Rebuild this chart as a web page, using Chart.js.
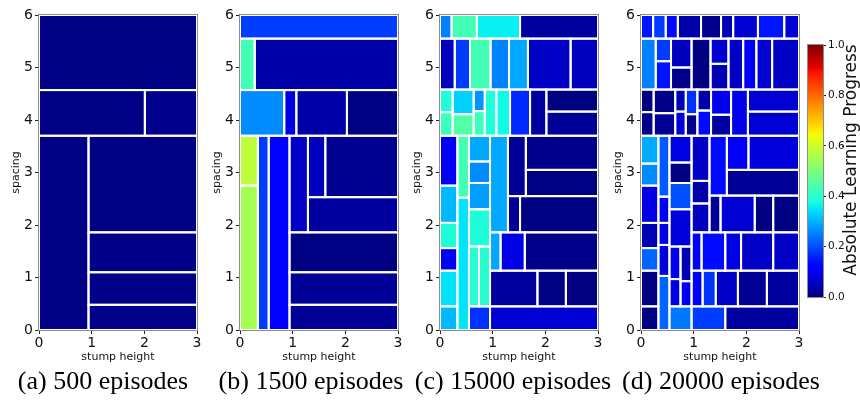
<!DOCTYPE html>
<html>
<head>
<meta charset="utf-8">
<script src="https://cdn.jsdelivr.net/npm/chart.js@4/dist/chart.umd.min.js"></script>
<style>
  body { margin: 0; background: #fff; }
  #wrap { position: relative; width: 860px; height: 400px; overflow: hidden; }
  #wrap canvas { position: absolute; top: 0; }
  .cap { position: absolute; top: 366px; width: 240px; text-align: center;
         font: 26px "Liberation Serif", "Times New Roman", serif; color: #000; white-space: nowrap; }
</style>
</head>
<body>
<div id="wrap"></div>
<script>
// cells: [x0, x1, y0, y1, absolute learning progress]
var captions = ["(a) 500 episodes", "(b) 1500 episodes", "(c) 15000 episodes", "(d) 20000 episodes"];
var captionCenter = [103, 311, 513, 721];
var xTicks = [0, 1, 2, 3];
var yTicks = [0, 1, 2, 3, 4, 5, 6];
var cbTicks = [0, 0.2, 0.4, 0.6, 0.8, 1.0];

var cellsA = [
  [0, 3, 4.57, 6, 0.005],
  [0, 2.01, 3.70, 4.57, 0.005],
  [2.01, 3, 3.70, 4.57, 0.012],
  [0, 0.94, 0, 3.70, 0.005],
  [0.94, 3, 1.86, 3.70, 0.005],
  [0.94, 3, 1.10, 1.86, 0.008],
  [0.94, 3, 0.48, 1.10, 0.008],
  [0.94, 3, 0, 0.48, 0.008]
];

var cellsB = [
  [0, 3, 5.55, 6, 0.185],
  [0, 0.28, 4.57, 5.55, 0.43],
  [0.28, 3, 4.57, 5.55, 0.036],
  [0, 0.84, 3.70, 4.57, 0.262],
  [0.84, 1.07, 3.70, 4.57, 0.088],
  [1.07, 2.03, 3.70, 4.57, 0.036],
  [2.03, 3, 3.70, 4.57, 0.005],
  [0, 0.34, 2.75, 3.70, 0.58],
  [0, 0.34, 0, 2.75, 0.55],
  [0.34, 0.545, 0, 3.70, 0.184],
  [0.545, 0.94, 0, 3.70, 0.12],
  [0.94, 1.29, 1.86, 3.70, 0.062],
  [1.29, 1.62, 2.53, 3.70, 0.054],
  [1.62, 3, 2.53, 3.70, 0.015],
  [1.29, 3, 1.86, 2.53, 0.028],
  [0.94, 3, 1.10, 1.86, 0.003],
  [0.94, 3, 0.48, 1.10, 0.02],
  [0.94, 3, 0, 0.48, 0.02]
];

var cellsC = [
  [0, 0.22, 5.55, 6, 0.252],
  [0.22, 0.70, 5.55, 6, 0.43],
  [0.70, 1.52, 5.55, 6, 0.36],
  [1.52, 3, 5.55, 6, 0.028],
  [0, 0.28, 4.58, 5.55, 0.054],
  [0.28, 0.57, 4.58, 5.55, 0.184],
  [0.57, 0.96, 4.58, 5.55, 0.43],
  [0.96, 1.31, 4.58, 5.55, 0.252],
  [1.31, 1.67, 4.58, 5.55, 0.29],
  [1.67, 2.48, 4.58, 5.55, 0.062],
  [2.48, 3, 4.58, 5.55, 0.054],
  [0, 0.24, 4.15, 4.58, 0.386],
  [0, 0.24, 3.70, 4.15, 0.42],
  [0.24, 0.64, 4.11, 4.58, 0.33],
  [0.24, 0.64, 3.70, 4.11, 0.447],
  [0.64, 0.85, 4.17, 4.58, 0.27],
  [0.64, 0.85, 3.70, 4.17, 0.42],
  [0.85, 1.07, 3.70, 4.58, 0.386],
  [1.07, 1.33, 3.70, 4.58, 0.37],
  [1.33, 1.71, 3.70, 4.58, 0.164],
  [1.71, 2.02, 3.70, 4.58, 0.028],
  [2.02, 3, 4.16, 4.58, 0.003],
  [2.02, 3, 3.70, 4.16, 0.019],
  [0, 0.33, 2.75, 3.70, 0.10],
  [0, 0.33, 2.04, 2.75, 0.306],
  [0, 0.33, 1.56, 2.04, 0.386],
  [0, 0.33, 1.13, 1.56, 0.10],
  [0, 0.33, 0.45, 1.13, 0.346],
  [0, 0.33, 0, 0.45, 0.306],
  [0.33, 0.55, 2.52, 3.70, 0.43],
  [0.33, 0.55, 0, 2.52, 0.35],
  [0.55, 0.95, 3.21, 3.70, 0.29],
  [0.55, 0.95, 2.80, 3.21, 0.262],
  [0.55, 0.95, 2.30, 2.80, 0.28],
  [0.55, 0.95, 1.59, 2.30, 0.386],
  [0.55, 0.74, 0.45, 1.59, 0.395],
  [0.74, 0.95, 0.45, 1.59, 0.395],
  [0.55, 0.95, 0, 0.45, 0.174],
  [0.95, 1.29, 1.86, 3.70, 0.29],
  [0.95, 1.15, 1.13, 1.86, 0.29],
  [1.15, 1.61, 1.13, 1.86, 0.088],
  [1.61, 3, 1.13, 1.86, 0.01],
  [1.29, 1.63, 2.55, 3.70, 0.019],
  [1.63, 3, 3.05, 3.70, 0.01],
  [1.63, 3, 2.55, 3.05, 0.003],
  [1.29, 1.52, 1.86, 2.55, 0.019],
  [1.52, 3, 1.86, 2.55, 0.003],
  [0.95, 1.85, 0.45, 1.13, 0.028],
  [1.85, 2.39, 0.45, 1.13, 0.003],
  [2.39, 3, 0.45, 1.13, 0.0],
  [0.95, 3, 0, 0.45, 0.071]
];

var cellsD = [
  [0, 0.23, 5.55, 6, 0.145],
  [0.23, 0.47, 5.55, 6, 0.184],
  [0.47, 0.70, 5.55, 6, 0.135],
  [0.70, 1.14, 5.55, 6, 0.036],
  [1.14, 1.52, 5.55, 6, 0.01],
  [1.52, 1.75, 5.55, 6, 0.045],
  [1.75, 2.22, 5.55, 6, 0.071],
  [2.22, 2.72, 5.55, 6, 0.145],
  [2.72, 3, 5.55, 6, 0.071],
  [0, 0.28, 4.58, 5.55, 0.252],
  [0.28, 0.57, 5.12, 5.55, 0.184],
  [0.28, 0.57, 4.58, 5.12, 0.145],
  [0.57, 0.96, 5.00, 5.55, 0.054],
  [0.57, 0.96, 4.58, 5.00, 0.008],
  [0.96, 1.32, 4.58, 5.55, 0.0],
  [1.32, 1.66, 5.07, 5.55, 0.071],
  [1.32, 1.66, 4.58, 5.07, 0.045],
  [1.66, 1.94, 4.58, 5.55, 0.062],
  [1.94, 2.19, 4.58, 5.55, 0.106],
  [2.19, 2.49, 4.58, 5.55, 0.071],
  [2.49, 3, 4.58, 5.55, 0.062],
  [0, 0.24, 4.15, 4.58, 0.0],
  [0, 0.24, 3.70, 4.15, 0.008],
  [0.24, 0.65, 4.13, 4.58, 0.008],
  [0.24, 0.65, 3.70, 4.13, 0.019],
  [0.65, 0.85, 4.16, 4.58, 0.045],
  [0.65, 0.85, 3.70, 4.16, 0.08],
  [0.85, 1.07, 4.11, 4.58, 0.174],
  [0.85, 1.07, 3.70, 4.11, 0.008],
  [1.07, 1.33, 4.18, 4.58, 0.036],
  [1.07, 1.33, 3.70, 4.18, 0.135],
  [1.33, 1.71, 4.10, 4.58, 0.097],
  [1.33, 1.71, 3.70, 4.10, 0.028],
  [1.71, 2.03, 3.70, 4.58, 0.092],
  [2.03, 3, 4.16, 4.58, 0.071],
  [2.03, 3, 3.70, 4.16, 0.071],
  [0, 0.33, 3.17, 3.70, 0.292],
  [0, 0.33, 2.75, 3.17, 0.262],
  [0, 0.33, 2.04, 2.75, 0.088],
  [0, 0.33, 1.56, 2.04, 0.045],
  [0, 0.33, 1.13, 1.56, 0.223],
  [0, 0.33, 0.45, 1.13, 0.0],
  [0, 0.33, 0, 0.45, 0.003],
  [0.33, 0.54, 2.54, 3.70, 0.213],
  [0.33, 0.54, 2.04, 2.54, 0.097],
  [0.33, 0.54, 1.62, 2.04, 0.088],
  [0.33, 0.54, 1.03, 1.62, 0.08],
  [0.33, 0.54, 0, 1.03, 0.223],
  [0.54, 0.96, 3.19, 3.70, 0.088],
  [0.54, 0.96, 2.80, 3.19, 0.0],
  [0.54, 0.96, 2.30, 2.80, 0.203],
  [0.54, 0.96, 1.59, 2.30, 0.08],
  [0.54, 0.75, 0.97, 1.59, 0.097],
  [0.75, 0.96, 0.93, 1.59, 0.045],
  [0.54, 0.75, 0.45, 0.97, 0.088],
  [0.75, 0.96, 0.45, 0.93, 0.097],
  [0.54, 0.96, 0, 0.45, 0.243],
  [0.96, 1.30, 2.84, 3.70, 0.062],
  [0.96, 1.30, 2.41, 2.84, 0.036],
  [0.96, 1.30, 1.86, 2.41, 0.054],
  [1.30, 1.63, 2.56, 3.70, 0.135],
  [1.63, 2.04, 3.05, 3.70, 0.106],
  [2.04, 3, 3.05, 3.70, 0.08],
  [1.63, 3, 2.56, 3.05, 0.019],
  [1.30, 1.51, 1.86, 2.56, 0.019],
  [1.51, 2.16, 1.86, 2.56, 0.071],
  [2.16, 2.51, 1.86, 2.56, 0.0],
  [2.51, 3, 1.86, 2.56, 0.003],
  [0.96, 1.15, 1.13, 1.86, 0.106],
  [1.15, 1.60, 1.13, 1.86, 0.135],
  [1.60, 1.90, 1.13, 1.86, 0.088],
  [1.90, 2.51, 1.13, 1.86, 0.062],
  [2.51, 3, 1.13, 1.86, 0.062],
  [0.96, 1.17, 0.45, 1.13, 0.106],
  [1.17, 1.42, 0.45, 1.13, 0.174],
  [1.42, 1.84, 0.45, 1.13, 0.062],
  [1.84, 2.39, 0.45, 1.13, 0.019],
  [2.39, 3, 0.45, 1.13, 0.028],
  [0.96, 1.60, 0, 0.45, 0.184],
  [1.60, 3, 0, 0.45, 0.028]
];

var panels = [cellsA, cellsB, cellsC, cellsD];
var panelLeft = [39, 240, 440, 641];

Chart.defaults.font.family = "'DejaVu Sans', sans-serif";
Chart.defaults.color = '#111';

// matplotlib jet colormap
function lerp(v, pts) {
  for (var i = 1; i < pts.length; i++) {
    if (v <= pts[i][0]) {
      var t = (v - pts[i-1][0]) / (pts[i][0] - pts[i-1][0]);
      return pts[i-1][1] + t * (pts[i][1] - pts[i-1][1]);
    }
  }
  return pts[pts.length-1][1];
}
function jet(v) {
  var r = lerp(v, [[0,0],[0.35,0],[0.66,1],[0.89,1],[1,0.5]]);
  var g = lerp(v, [[0,0],[0.125,0],[0.375,1],[0.64,1],[0.91,0],[1,0]]);
  var b = lerp(v, [[0,0.5],[0.11,1],[0.34,1],[0.65,0],[1,0]]);
  return 'rgb(' + Math.round(r*255) + ',' + Math.round(g*255) + ',' + Math.round(b*255) + ')';
}

var cellPlugin = {
  id: 'cells',
  afterDatasetsDraw: function(chart) {
    var ctx = chart.ctx, a = chart.chartArea, x = chart.scales.x, y = chart.scales.y;
    var rects = chart.data.datasets[0].data.map(function(d) {
      var c = d.cell;
      var x0 = x.getPixelForValue(c[0]), x1 = x.getPixelForValue(c[1]);
      var y0 = y.getPixelForValue(c[2]), y1 = y.getPixelForValue(c[3]);
      return [x0, y1, x1 - x0, y0 - y1, c[4]];
    });
    ctx.save();
    rects.forEach(function(r) {
      ctx.fillStyle = jet(r[4]);
      ctx.fillRect(r[0], r[1], r[2], r[3]);
    });
    ctx.strokeStyle = '#fff';
    ctx.lineWidth = 2;
    rects.forEach(function(r) { ctx.strokeRect(r[0], r[1], r[2], r[3]); });
    ctx.strokeStyle = '#8c8c8c';
    ctx.lineWidth = 1;
    ctx.strokeRect(a.left - 0.5, a.top - 0.5, a.width + 1, a.height + 1);
    ctx.restore();
  }
};

var wrap = document.getElementById('wrap');

function makePanel(i) {
  var cv = document.createElement('canvas');
  cv.width = 206; cv.height = 400;
  cv.style.left = (panelLeft[i] - 40) + 'px';
  wrap.appendChild(cv);

  var cap = document.createElement('div');
  cap.className = 'cap';
  cap.style.left = (captionCenter[i] - 120) + 'px';
  cap.textContent = captions[i];
  wrap.appendChild(cap);

  new Chart(cv, {
    type: 'scatter',
    data: {
      datasets: [{
        data: panels[i].map(function(c) { return { x: (c[0] + c[1]) / 2, y: (c[2] + c[3]) / 2, cell: c }; }),
        pointRadius: 0
      }]
    },
    options: {
      responsive: false,
      animation: false,
      events: [],
      layout: { padding: { top: 15, right: 8, bottom: 0, left: 0 } },
      plugins: { legend: { display: false }, tooltip: { enabled: false } },
      scales: {
        x: {
          type: 'linear', min: 0, max: 3,
          afterBuildTicks: function(s) { s.ticks = xTicks.map(function(v) { return { value: v }; }); },
          afterFit: function(s) { s.height = 70; },
          ticks: { font: { size: 14 }, padding: 1, maxRotation: 0, callback: function(v) { return v; } },
          grid: { drawOnChartArea: false, drawTicks: true, tickLength: 4, color: '#222' },
          border: { display: false },
          title: { display: true, text: 'stump height', font: { size: 11 }, color: '#111', padding: { top: 0, bottom: 36 } }
        },
        y: {
          type: 'linear', min: 0, max: 6,
          afterBuildTicks: function(s) { s.ticks = yTicks.map(function(v) { return { value: v }; }); },
          afterFit: function(s) { s.width = 40; },
          ticks: { font: { size: 14 }, padding: 2, callback: function(v) { return v; } },
          grid: { drawOnChartArea: false, drawTicks: true, tickLength: 4, color: '#222' },
          border: { display: false },
          title: { display: true, text: 'spacing', font: { size: 11 }, color: '#111', padding: { top: 11, bottom: 0 } }
        }
      }
    },
    plugins: [cellPlugin]
  });
}

for (var i = 0; i < 4; i++) makePanel(i);

// colour bar
var cbPlugin = {
  id: 'colorbar',
  afterDatasetsDraw: function(chart) {
    var ctx = chart.ctx, a = chart.chartArea, y = chart.scales.y;
    var p0 = y.getPixelForValue(0), p1 = y.getPixelForValue(1);
    var grad = ctx.createLinearGradient(0, p0, 0, p1);
    for (var k = 0; k <= 100; k++) grad.addColorStop(k / 100, jet(k / 100));
    ctx.save();
    ctx.fillStyle = grad;
    ctx.fillRect(a.left, p1, a.width, p0 - p1);
    ctx.strokeStyle = '#8c8c8c';
    ctx.lineWidth = 1;
    ctx.strokeRect(a.left - 0.5, a.top - 0.5, a.width + 1, a.height + 1);
    ctx.translate(76, 160);
    ctx.rotate(-Math.PI / 2);
    ctx.font = "17px 'DejaVu Sans', sans-serif";
    ctx.fillStyle = '#111';
    ctx.textAlign = 'center';
    ctx.textBaseline = 'middle';
    ctx.fillText('Absolute Learning Progress', 0, 0);
    ctx.restore();
  }
};

var cb = document.createElement('canvas');
cb.width = 84; cb.height = 400;
cb.style.left = '776px';
wrap.appendChild(cb);
new Chart(cb, {
  type: 'scatter',
  data: { datasets: [{ data: [], pointRadius: 0 }] },
  options: {
    responsive: false,
    animation: false,
    events: [],
    layout: { padding: { top: 45, right: 0, bottom: 103, left: 32 } },
    plugins: { legend: { display: false }, tooltip: { enabled: false } },
    scales: {
      x: { display: false, min: 0, max: 1 },
      y: {
        position: 'right', min: 0, max: 1,
        afterBuildTicks: function(s) { s.ticks = cbTicks.map(function(v) { return { value: v }; }); },
        afterFit: function(s) { s.width = 37; },
        ticks: { font: { size: 10.5 }, padding: 2, callback: function(v) { return Number(v).toFixed(1); } },
        grid: { drawOnChartArea: false, drawTicks: true, tickLength: 3, color: '#222' },
        border: { display: false }
      }
    }
  },
  plugins: [cbPlugin]
});
</script>
</body>
</html>
